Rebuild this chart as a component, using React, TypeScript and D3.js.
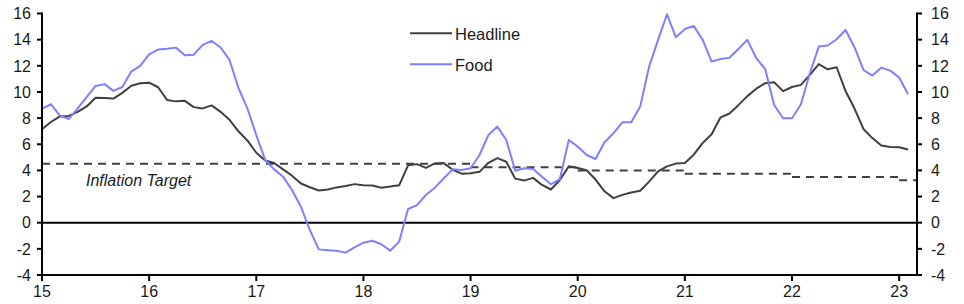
import React from "react";
import * as d3 from "d3";

const startYear = 2015;
const headline = [
  7.14, 7.7, 8.13, 8.17, 8.47, 8.89, 9.56, 9.53, 9.49, 9.93, 10.48, 10.67,
  10.71, 10.36, 9.39, 9.28, 9.32, 8.84, 8.74, 8.97, 8.48, 7.87, 6.99, 6.29,
  5.35, 4.76, 4.57, 4.08, 3.6, 3.0, 2.71, 2.46, 2.54, 2.7, 2.8, 2.95,
  2.86, 2.84, 2.68, 2.76, 2.86, 4.39, 4.48, 4.19, 4.53, 4.56, 4.05, 3.75,
  3.78, 3.89, 4.58, 4.94, 4.66, 3.37, 3.22, 3.43, 2.89, 2.54, 3.27, 4.31,
  4.19, 4.01, 3.3, 2.4, 1.88, 2.13, 2.31, 2.44, 3.14, 3.92, 4.31, 4.52,
  4.56, 5.2, 6.1, 6.76, 8.06, 8.35, 8.99, 9.68, 10.25, 10.67, 10.74, 10.06,
  10.38, 10.54, 11.3, 12.13, 11.73, 11.89, 10.07, 8.73, 7.17, 6.47, 5.9, 5.79,
  5.77, 5.6,
];
const food = [
  8.7, 9.06, 8.19, 7.93, 8.75, 9.6, 10.46, 10.6, 10.08, 10.38, 11.56, 11.99,
  12.88, 13.24, 13.3, 13.39, 12.8, 12.85, 13.6, 13.9, 13.4, 12.45, 10.3, 8.75,
  6.7, 4.8, 4.08, 3.52, 2.5, 1.22, -0.56, -2.04, -2.1, -2.15, -2.29, -1.89,
  -1.53, -1.38, -1.65, -2.14, -1.45, 1.05, 1.35, 2.12, 2.68, 3.4, 4.08, 4.03,
  4.16, 5.18, 6.71, 7.35, 6.33, 3.98, 4.16, 4.1, 3.52, 2.94, 3.34, 6.33,
  5.82, 5.18, 4.87, 6.15, 6.84, 7.68, 7.68, 8.88, 11.94, 13.98, 15.94, 14.18,
  14.82, 15.05, 13.98, 12.32, 12.52, 12.62, 13.29, 13.98, 12.58, 11.75, 9.0, 7.99,
  7.99, 9.06, 11.43, 13.47, 13.55, 14.03, 14.74, 13.42, 11.68, 11.25, 11.86, 11.63,
  11.1, 9.82,
];
// inflation target segments: [start year, end year, value]
const targetStart = [2015, 2019, 2020, 2021, 2022, 2023];
const targetEnd = [2019, 2020, 2021, 2022, 2023, 2023.1667];
const targetValue = [4.5, 4.25, 4.0, 3.75, 3.5, 3.25];
const xTicks = [2015, 2016, 2017, 2018, 2019, 2020, 2021, 2022, 2023];
const yTicks = [-4, -2, 0, 2, 4, 6, 8, 10, 12, 14, 16];
const seriesNames = ["Headline", "Food"];
const colors = ["#404040", "#7f7fff"];

const W = 964;
const H = 304;
const FONT = "'Liberation Sans', Arial, sans-serif";

export default function App() {
  const x = d3.scaleLinear().domain([2015, 2023.1667]).range([42, 917]);
  const y = d3.scaleLinear().domain([-4, 16]).range([275, 13.5]);
  const line = d3
    .line<number>()
    .x((_, i) => x(startYear + i / 12))
    .y((d) => y(d));
  const series = [headline, food];
  const left = x.range()[0];
  const right = x.range()[1];
  const bottom = y.range()[0];
  const top = y.range()[1];

  return (
    <svg
      width={W}
      height={H}
      style={{ position: "absolute", left: 0, top: 0, background: "#fff" }}
      fontFamily={FONT}
    >
      {targetValue.map((v, i) => (
        <line
          key={"t" + i}
          x1={x(targetStart[i])}
          x2={x(targetEnd[i])}
          y1={y(v)}
          y2={y(v)}
          stroke="#404040"
          strokeWidth={2}
          strokeDasharray="8,6"
        />
      ))}
      <text x={86} y={185.5} fontSize={16} fontStyle="italic" fill="#1a1a1a">
        Inflation Target
      </text>
      <line x1={left} x2={right} y1={y(0)} y2={y(0)} stroke="#000" strokeWidth={2} />
      {series.map((s, k) => (
        <path
          key={"s" + k}
          d={line(s) || ""}
          fill="none"
          stroke={colors[k]}
          strokeWidth={2}
          strokeLinejoin="round"
        />
      ))}
      <line x1={left} x2={left} y1={top - 1} y2={bottom + 1} stroke="#000" strokeWidth={2} />
      <line x1={right} x2={right} y1={top - 1} y2={bottom + 1} stroke="#000" strokeWidth={2} />
      <line x1={left - 1} x2={right + 1} y1={bottom} y2={bottom} stroke="#000" strokeWidth={2} />
      {yTicks.map((t) => (
        <g key={"y" + t}>
          <line x1={left - 5} x2={left} y1={y(t)} y2={y(t)} stroke="#000" strokeWidth={2} />
          <line x1={right} x2={right + 5} y1={y(t)} y2={y(t)} stroke="#000" strokeWidth={2} />
          <text x={31} y={y(t) + 5.7} fontSize={16} textAnchor="end" fill="#1a1a1a">
            {t}
          </text>
          <text x={931} y={y(t) + 5.7} fontSize={16} textAnchor="start" fill="#1a1a1a">
            {t}
          </text>
        </g>
      ))}
      {xTicks.map((t) => (
        <g key={"x" + t}>
          <line x1={x(t)} x2={x(t)} y1={bottom} y2={bottom + 6} stroke="#000" strokeWidth={2} />
          <text x={x(t)} y={297} fontSize={16} textAnchor="middle" fill="#1a1a1a">
            {String(t).slice(2)}
          </text>
        </g>
      ))}
      {seriesNames.map((n, k) => (
        <g key={"l" + k}>
          <line
            x1={410}
            x2={452}
            y1={33.3 + k * 31}
            y2={33.3 + k * 31}
            stroke={colors[k]}
            strokeWidth={2}
          />
          <text x={455} y={39.5 + k * 31} fontSize={16.5} fill="#1a1a1a">
            {n}
          </text>
        </g>
      ))}
    </svg>
  );
}
